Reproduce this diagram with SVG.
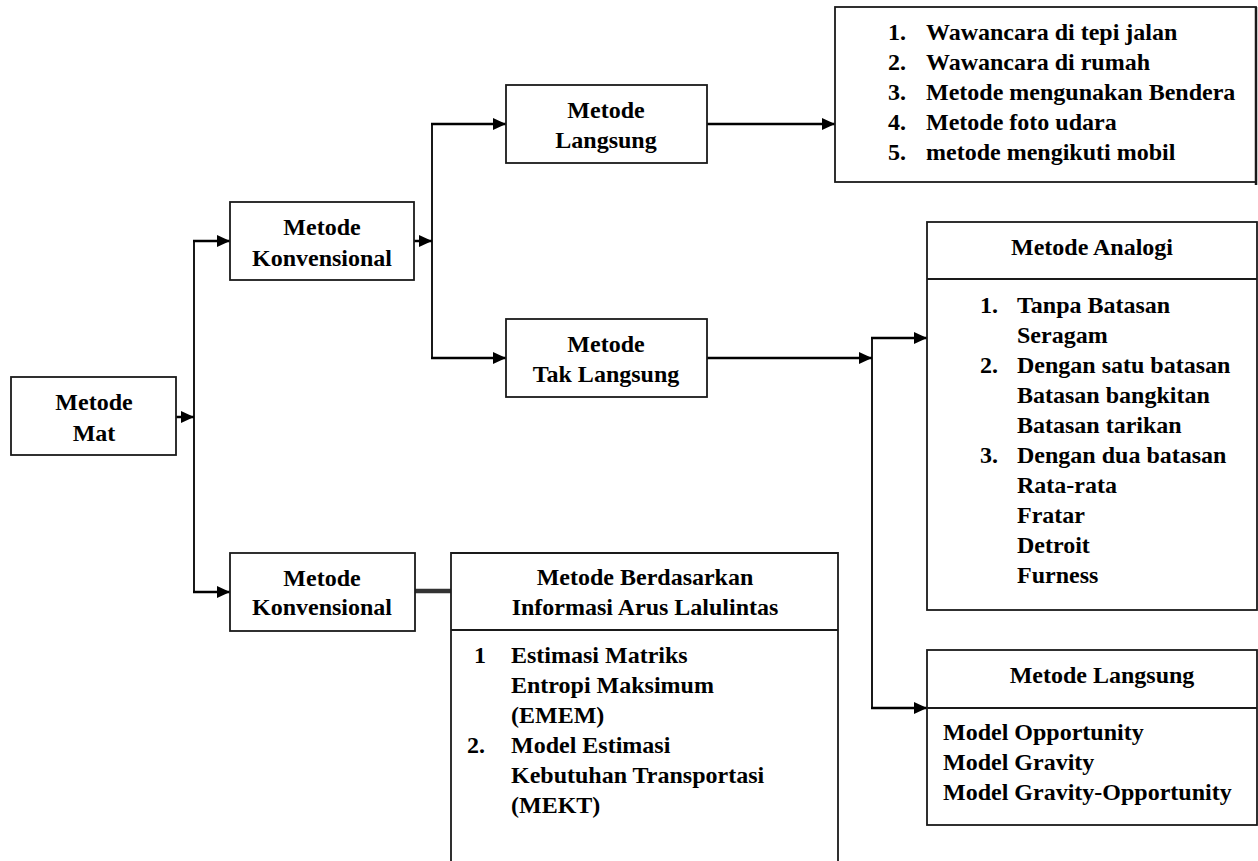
<svg xmlns="http://www.w3.org/2000/svg" width="1258" height="861" viewBox="0 0 1258 861">
<style>
.box{fill:#fff;stroke:#1a1a1a;stroke-width:1.8}
.div{stroke:#1a1a1a;stroke-width:1.8}
.t{font-family:"Liberation Serif","Times New Roman",serif;font-weight:bold;font-size:24px;fill:#000}
.c{text-anchor:middle}
.h{stroke:#000;stroke-width:2.5;fill:none}
.v{stroke:#000;stroke-width:1.8;fill:none}
</style>
<defs>
<marker id="ah" markerUnits="userSpaceOnUse" markerWidth="13" markerHeight="12" refX="13" refY="6" orient="auto">
<path d="M0,0 L13,6 L0,12 z" fill="#000"/>
</marker>
</defs>
<rect width="1258" height="861" fill="#fff"/>
<g id="connectors">
<line class="h" x1="176" y1="417" x2="194" y2="417" marker-end="url(#ah)"/>
<line class="v" x1="194" y1="241" x2="194" y2="592"/>
<line class="h" x1="193" y1="241" x2="230" y2="241" marker-end="url(#ah)"/>
<line class="h" x1="193" y1="592" x2="230" y2="592" marker-end="url(#ah)"/>
<line class="h" x1="414" y1="241" x2="432" y2="241" marker-end="url(#ah)"/>
<line class="v" x1="432" y1="124" x2="432" y2="358"/>
<line class="h" x1="431" y1="124" x2="506" y2="124" marker-end="url(#ah)"/>
<line class="h" x1="431" y1="358" x2="506" y2="358" marker-end="url(#ah)"/>
<line class="h" x1="707" y1="124" x2="835" y2="124" marker-end="url(#ah)"/>
<line class="h" x1="707" y1="358" x2="872" y2="358" marker-end="url(#ah)"/>
<line class="v" x1="872" y1="338" x2="872" y2="708"/>
<line class="h" x1="871" y1="338" x2="927" y2="338" marker-end="url(#ah)"/>
<line class="h" x1="871" y1="708" x2="927" y2="708" marker-end="url(#ah)"/>
<line x1="415" y1="591" x2="451" y2="591" stroke="#333" stroke-width="4.5"/>
</g>
<g id="metode-mat">
<rect class="box" x="11" y="377" width="165" height="78"/>
<text class="t c" x="94" y="410">Metode</text>
<text class="t c" x="94" y="441">Mat</text>
</g>
<g id="konvensional-1">
<rect class="box" x="230" y="202" width="184" height="78"/>
<text class="t c" x="322" y="235">Metode</text>
<text class="t c" x="322" y="266">Konvensional</text>
</g>
<g id="metode-langsung-1">
<rect class="box" x="506" y="85" width="201" height="78"/>
<text class="t c" x="606" y="118">Metode</text>
<text class="t c" x="606" y="148">Langsung</text>
</g>
<g id="metode-tak-langsung">
<rect class="box" x="506" y="319" width="201" height="78"/>
<text class="t c" x="606" y="352">Metode</text>
<text class="t c" x="606" y="382">Tak Langsung</text>
</g>
<g id="konvensional-2">
<rect class="box" x="230" y="553" width="185" height="78"/>
<text class="t c" x="322" y="586">Metode</text>
<text class="t c" x="322" y="615">Konvensional</text>
</g>
<g id="survey-list">
<rect class="box" x="835" y="7" width="421" height="175"/>
<line x1="1256" y1="7" x2="1256" y2="185" stroke="#1a1a1a" stroke-width="2.5"/>
<text class="t" x="888" y="40">1.</text><text class="t" x="926" y="40">Wawancara di tepi jalan</text>
<text class="t" x="888" y="70">2.</text><text class="t" x="926" y="70">Wawancara di rumah</text>
<text class="t" x="888" y="100">3.</text><text class="t" x="926" y="100">Metode mengunakan Bendera</text>
<text class="t" x="888" y="130">4.</text><text class="t" x="926" y="130">Metode foto udara</text>
<text class="t" x="888" y="160">5.</text><text class="t" x="926" y="160">metode mengikuti mobil</text>
</g>
<g id="metode-analogi">
<rect class="box" x="927" y="222" width="330" height="388"/>
<line class="div" x1="927" y1="279" x2="1257" y2="279"/>
<text class="t c" x="1092" y="255">Metode Analogi</text>
<text class="t" x="980" y="313">1.</text><text class="t" x="1017" y="313">Tanpa Batasan</text>
<text class="t" x="1017" y="343">Seragam</text>
<text class="t" x="980" y="373">2.</text><text class="t" x="1017" y="373">Dengan satu batasan</text>
<text class="t" x="1017" y="403">Batasan bangkitan</text>
<text class="t" x="1017" y="433">Batasan tarikan</text>
<text class="t" x="980" y="463">3.</text><text class="t" x="1017" y="463">Dengan dua batasan</text>
<text class="t" x="1017" y="493">Rata-rata</text>
<text class="t" x="1017" y="523">Fratar</text>
<text class="t" x="1017" y="553">Detroit</text>
<text class="t" x="1017" y="583">Furness</text>
</g>
<g id="metode-langsung-2">
<rect class="box" x="927" y="650" width="330" height="175"/>
<line class="div" x1="927" y1="708" x2="1257" y2="708"/>
<text class="t c" x="1102" y="683">Metode Langsung</text>
<text class="t" x="943" y="740">Model Opportunity</text>
<text class="t" x="943" y="770">Model Gravity</text>
<text class="t" x="943" y="800">Model Gravity-Opportunity</text>
</g>
<g id="metode-berdasarkan">
<path class="box" d="M451,870 L451,553 L838,553 L838,870"/>
<line class="div" x1="451" y1="630" x2="838" y2="630"/>
<text class="t c" x="645" y="585">Metode Berdasarkan</text>
<text class="t c" x="645" y="615">Informasi Arus Lalulintas</text>
<text class="t" x="474" y="663">1</text><text class="t" x="511" y="663">Estimasi Matriks</text>
<text class="t" x="511" y="693">Entropi Maksimum</text>
<text class="t" x="511" y="723">(EMEM)</text>
<text class="t" x="467" y="753">2.</text><text class="t" x="511" y="753">Model Estimasi</text>
<text class="t" x="511" y="783">Kebutuhan Transportasi</text>
<text class="t" x="511" y="813">(MEKT)</text>
</g>
</svg>
